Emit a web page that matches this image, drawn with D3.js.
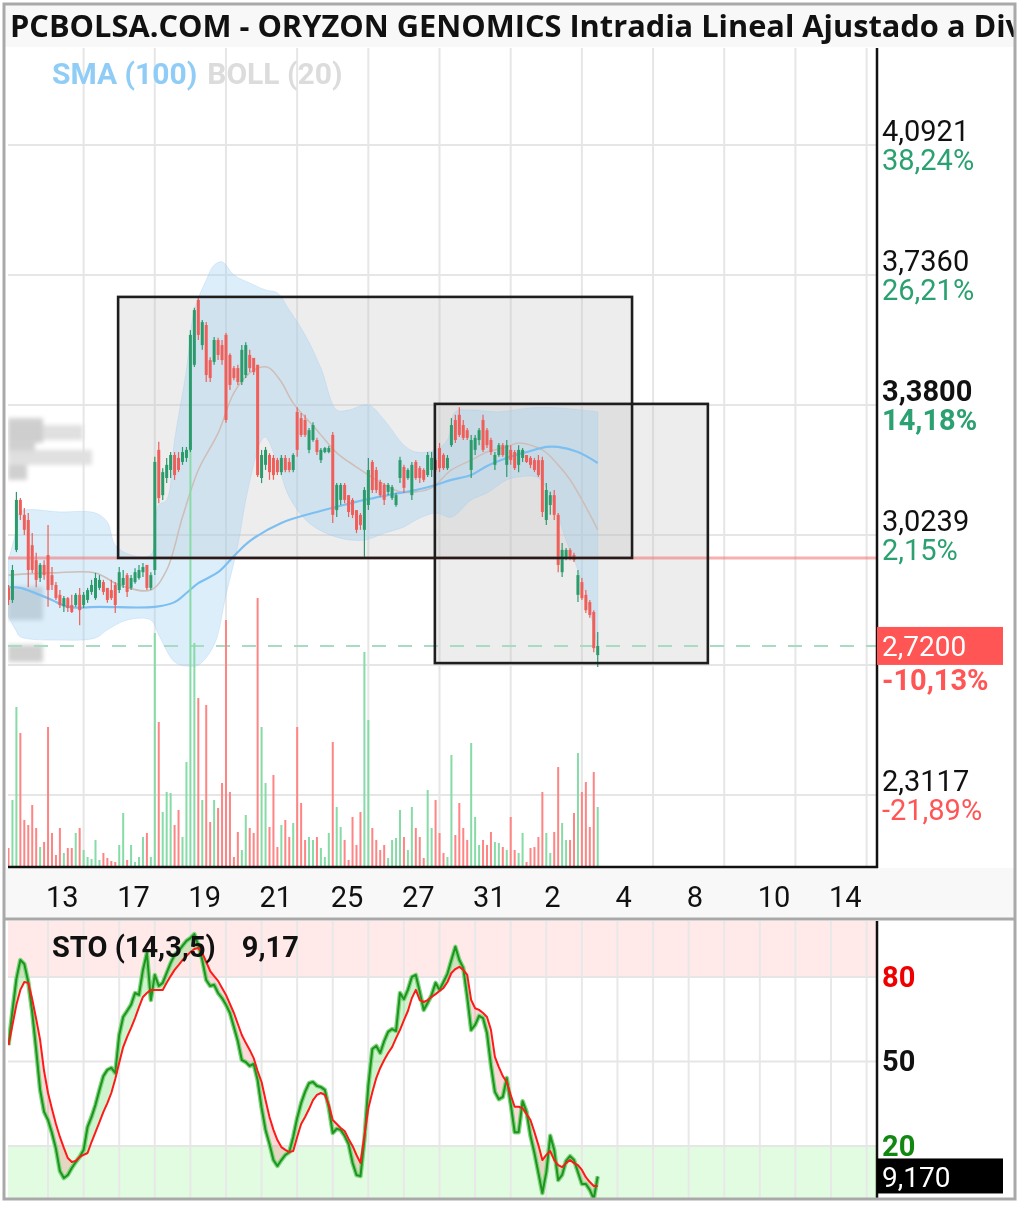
<!DOCTYPE html>
<html><head><meta charset="utf-8">
<script src="https://cdn.jsdelivr.net/npm/d3@7"></script>
<style>
html,body{margin:0;padding:0;background:#fff;}
svg{display:block;}
text{font-family:Roboto,"DejaVu Sans",sans-serif;}
</style></head><body>
<svg id="chart" width="1020" height="1205"></svg>
<script>
// ---------------- DATA ----------------
const titleText = "PCBOLSA.COM - ORYZON GENOMICS Intradia Lineal Ajustado a Dividendos";
const dayLabels = ["13","17","19","21","25","27","31","2","4","8","10","14"];
const dayLabelIdx = [0,2,4,6,8,10,12,14,16,18,20,22];
const firstCandleDay = -1.11;   // day position of first candle (Mar 12 afternoon)
const candlesPerDay = 9;

const open = [2.879,2.846,2.983,3.120,3.079,3.065,2.996,2.955,2.906,2.942,
2.969,2.914,2.887,2.860,2.829,2.851,2.832,2.832,2.860,2.832,
2.846,2.868,2.851,2.879,2.895,2.879,2.873,2.887,2.873,2.887,
2.914,2.879,2.895,2.906,2.922,2.942,2.879,2.928,3.257,3.133,
3.180,3.202,3.243,3.235,3.224,3.235,3.257,3.490,3.668,3.544,
3.599,3.503,3.498,3.558,3.544,3.572,3.517,3.481,3.481,3.443,
3.462,3.517,3.509,3.490,3.180,3.216,3.243,3.235,3.229,3.196,
3.235,3.224,3.202,3.361,3.344,3.339,3.257,3.284,3.284,3.229,
3.251,3.251,3.298,3.092,3.120,3.161,3.133,3.120,3.092,3.079,
3.038,3.106,3.224,3.202,3.169,3.161,3.142,3.125,3.106,3.180,
3.210,3.180,3.133,3.224,3.207,3.202,3.188,3.202,3.229,3.262,
3.243,3.207,3.270,3.339,3.353,3.325,3.311,3.202,3.257,3.284,
3.339,3.311,3.284,3.216,3.243,3.270,3.216,3.257,3.251,3.216,
3.235,3.243,3.235,3.229,3.229,3.229,3.065,3.106,3.133,3.079,
2.922,2.961,2.983,2.969,2.860,2.895,2.860,2.840,2.813,2.695];
const high = [2.887,2.942,3.142,3.125,3.098,3.084,3.029,2.975,2.947,2.955,
3.051,2.936,2.895,2.873,2.857,2.854,2.860,2.865,2.879,2.868,
2.879,2.901,2.920,2.914,2.901,2.879,2.901,2.895,2.936,2.928,
2.920,2.914,2.933,2.942,2.947,2.942,2.922,3.238,3.279,3.207,
3.235,3.251,3.251,3.251,3.265,3.265,3.585,3.646,3.673,3.613,
3.607,3.511,3.566,3.564,3.558,3.577,3.522,3.487,3.490,3.544,
3.552,3.531,3.509,3.490,3.257,3.265,3.248,3.243,3.235,3.243,
3.243,3.235,3.248,3.374,3.358,3.353,3.317,3.333,3.290,3.262,
3.265,3.268,3.306,3.166,3.166,3.166,3.133,3.125,3.092,3.084,
3.155,3.235,3.229,3.210,3.175,3.166,3.166,3.161,3.139,3.238,
3.216,3.207,3.224,3.229,3.213,3.207,3.251,3.251,3.235,3.276,
3.248,3.243,3.344,3.353,3.374,3.339,3.317,3.298,3.298,3.317,
3.353,3.317,3.290,3.251,3.276,3.276,3.284,3.270,3.257,3.270,
3.262,3.243,3.240,3.235,3.243,3.238,3.166,3.142,3.147,3.084,
3.002,2.988,2.988,2.975,2.928,2.906,2.873,2.846,2.818,2.758];
const low = [2.832,2.838,2.977,3.065,3.024,2.881,2.920,2.881,2.895,2.901,
2.827,2.873,2.846,2.824,2.813,2.813,2.810,2.827,2.777,2.824,
2.838,2.860,2.846,2.873,2.860,2.838,2.846,2.810,2.865,2.879,
2.854,2.873,2.890,2.901,2.909,2.873,2.873,2.914,3.111,3.120,
3.166,3.180,3.175,3.196,3.216,3.224,3.251,3.484,3.558,3.531,
3.443,3.443,3.490,3.503,3.490,3.331,3.421,3.448,3.435,3.435,
3.454,3.470,3.462,3.183,3.166,3.202,3.175,3.175,3.188,3.188,
3.196,3.196,3.196,3.238,3.292,3.292,3.248,3.279,3.243,3.221,
3.248,3.248,3.057,3.073,3.106,3.111,3.073,3.070,3.029,3.038,
2.964,3.092,3.139,3.139,3.128,3.106,3.133,3.120,3.101,3.166,
3.139,3.175,3.120,3.175,3.166,3.169,3.183,3.183,3.196,3.196,
3.202,3.202,3.265,3.276,3.292,3.284,3.284,3.180,3.243,3.270,
3.251,3.262,3.243,3.202,3.238,3.238,3.183,3.216,3.202,3.196,
3.224,3.221,3.207,3.196,3.183,3.073,3.051,3.079,3.065,2.922,
2.909,2.955,2.955,2.950,2.840,2.846,2.810,2.797,2.703,2.662];
const close = [2.846,2.928,3.120,3.079,3.038,2.928,2.928,2.901,2.942,2.914,
2.873,2.887,2.851,2.832,2.851,2.824,2.813,2.860,2.818,2.860,
2.873,2.887,2.906,2.901,2.868,2.846,2.851,2.832,2.922,2.906,
2.868,2.906,2.922,2.928,2.936,2.879,2.914,3.224,3.125,3.196,
3.216,3.243,3.188,3.202,3.251,3.257,3.572,3.640,3.572,3.607,
3.462,3.454,3.558,3.517,3.503,3.339,3.435,3.454,3.443,3.531,
3.544,3.481,3.470,3.188,3.243,3.257,3.196,3.188,3.196,3.235,
3.202,3.202,3.243,3.257,3.298,3.298,3.311,3.325,3.251,3.257,
3.262,3.262,3.079,3.161,3.161,3.120,3.087,3.079,3.038,3.051,
3.147,3.202,3.147,3.147,3.133,3.120,3.161,3.155,3.133,3.229,
3.153,3.202,3.216,3.180,3.180,3.175,3.243,3.235,3.202,3.207,
3.207,3.235,3.325,3.284,3.298,3.290,3.290,3.284,3.290,3.311,
3.257,3.270,3.251,3.243,3.270,3.243,3.270,3.229,3.207,3.257,
3.257,3.224,3.216,3.202,3.188,3.087,3.147,3.133,3.079,2.942,
2.983,2.983,2.961,2.955,2.914,2.851,2.818,2.805,2.714,2.720];
// volume, thousands of shares
const volume = [19,67,160,134,47,42,62,39,20,25,
140,34,12,39,14,19,19,34,39,17,
10,8,27,7,14,9,6,5,22,54,
7,22,5,10,30,34,10,234,145,55,
75,74,42,57,30,105,427,224,169,67,
162,45,67,59,84,247,75,10,35,17,
52,39,34,269,140,84,40,92,20,42,
47,30,44,140,64,27,30,27,30,19,
10,34,125,60,40,27,7,50,22,55,
215,147,39,27,17,22,9,27,29,57,
30,17,60,39,30,9,77,39,67,34,
14,10,112,32,64,39,27,124,50,22,
27,22,35,25,24,20,17,50,17,14,
34,5,19,20,30,75,34,14,35,100,
44,27,27,54,114,75,85,40,95,60];

// Bollinger (20) and SMA(100) read at sample candle indices
const bollUpperIdx = [0,2,3,13,22,25,27,31,36,37,38,40,42,45,47,50,52,54,57,61,65,68,71,75,79,83,86,91,95,100,103,108,111,113,117,124,132,139,149];
const bollUpper = [2.955,3.038,3.087,3.087,3.084,3.059,2.996,2.969,2.969,3.051,3.106,3.120,3.284,3.476,3.640,3.722,3.763,3.772,3.736,3.714,3.695,3.687,3.640,3.572,3.481,3.366,3.366,3.380,3.339,3.270,3.251,3.257,3.284,3.361,3.366,3.361,3.372,3.372,3.361];
const bollLowerIdx = [0,2,3,13,22,25,30,36,38,42,45,48,52,55,58,60,63,64,65,68,71,76,83,90,95,100,103,108,112,117,121,126,129,134,138,141,144,147,149];
const bollLower = [2.800,2.760,2.745,2.736,2.742,2.764,2.791,2.791,2.750,2.676,2.665,2.668,2.723,2.860,2.996,3.120,3.257,3.284,3.292,3.221,3.128,3.057,3.018,3.010,3.029,3.046,3.065,3.084,3.073,3.120,3.139,3.175,3.183,3.180,3.106,3.010,2.928,2.818,2.709];
const bollMidIdx = [0,11,22,28,36,40,44,48,53,57,61,64,66,69,72,78,83,88,93,99,103,107,112,117,121,126,129,135,139,142,146,149];
const bollMid = [2.914,2.920,2.920,2.887,2.873,2.928,3.073,3.202,3.303,3.413,3.468,3.484,3.481,3.443,3.385,3.311,3.249,3.210,3.175,3.142,3.142,3.153,3.202,3.229,3.251,3.265,3.276,3.257,3.216,3.175,3.101,3.038];
const smaIdx = [0,3,6,11,15,23,37,42,45,48,53,57,61,69,78,83,90,96,103,108,112,117,121,126,131,136,139,144,149];
const sma100 = [2.881,2.879,2.868,2.846,2.827,2.827,2.827,2.840,2.865,2.892,2.922,2.966,3.007,3.057,3.087,3.101,3.120,3.133,3.147,3.161,3.175,3.188,3.213,3.235,3.251,3.265,3.265,3.251,3.221];

// Stochastic (14,3,5)
const stoK = [55.8,67.9,79.3,86.0,84.6,78.2,67.5,54.1,39.9,32.1,
29.2,24.6,19.0,11.1,8.6,9.7,12.2,14.3,16.1,18.6,
26.8,30.3,34.6,39.9,44.8,47.0,47.7,45.9,59.4,65.8,
67.9,70.1,74.3,73.6,82.5,88.5,71.8,80.7,76.8,77.9,
81.4,84.9,87.8,89.2,91.0,92.8,93.8,95.2,91.3,86.0,
78.9,76.8,77.2,74.3,72.5,70.1,67.2,62.2,57.2,50.5,
49.8,48.4,49.1,43.4,33.6,25.7,20.7,15.0,12.9,15.0,
16.8,17.8,23.2,29.9,35.2,39.2,42.3,42.7,41.3,40.9,
39.9,33.6,24.6,26.1,25.7,23.6,20.7,14.1,9.7,9.3,
22.1,41.6,54.4,55.5,53.0,57.2,60.5,61.5,60.8,74.3,
72.1,75.4,80.0,80.7,74.7,68.3,70.8,73.6,77.9,75.4,
78.2,81.1,86.0,90.7,86.0,83.2,72.9,61.2,63.0,66.2,
65.4,60.1,48.7,39.2,36.6,37.4,44.1,34.9,24.9,24.9,
35.9,32.1,23.6,17.5,10.4,3.3,10.7,23.6,18.6,7.9,
9.7,14.7,16.4,15.0,10.7,6.5,6.5,4.4,1.2,9.17];
const stoD = [55.8,62.9,70.1,75.4,78.2,77.9,72.1,65.1,57.6,46.6,
38.8,33.1,27.8,23.2,19.3,15.7,14.3,14.7,16.1,16.8,
17.5,21.4,24.9,28.5,32.1,35.2,38.8,43.8,49.5,55.1,
58.7,61.9,65.4,69.3,72.9,74.3,75.4,75.4,75.4,75.4,
77.9,80.3,82.5,84.2,86.0,87.4,88.8,89.9,90.3,88.5,
85.3,82.1,80.3,78.6,76.1,73.6,70.4,67.2,63.3,59.4,
56.6,54.1,51.2,46.6,42.7,36.3,30.3,25.7,22.1,19.6,
18.6,17.8,18.2,23.2,27.8,30.3,33.1,36.3,38.1,38.8,
38.1,34.6,29.2,27.8,26.4,25.3,22.5,20.0,16.8,14.0,
23.6,33.4,39.1,44.1,47.7,50.5,53.0,55.1,58.3,61.2,
64.7,67.9,72.5,75.4,71.8,71.1,71.8,72.9,73.9,75.0,
76.1,78.2,81.4,82.8,83.6,82.5,80.7,71.8,68.9,68.3,
67.2,65.8,61.2,51.6,48.0,44.8,42.7,38.1,33.9,33.9,
33.4,31.3,29.2,24.9,20.3,15.0,16.8,18.2,15.0,13.2,
12.5,13.9,15.0,13.9,13.2,11.5,8.9,7.2,5.8,5.8];
const stoLast = 9.17;
const stoLevels = [80,50,20];

// price axis
const priceTicks = [4.0921,3.7360,3.3800,3.0239,2.6678,2.3117];
const tickPct = ["38,24%","26,21%","14,18%","2,15%","","-21,89%"];
const tickBold = [false,false,true,false,false,false];
const lastPrice = 2.72, lastPct = "-10,13%";
const refPrice = 2.961;

// drawn rectangles (day position, price)
const boxes = [
  {d0:1.97, d1:16.41, p0:3.676, p1:2.961},
  {d0:10.87, d1:18.54, p0:3.383, p1:2.673}
];
// volume-at-price blocks (price range, volume)
const vapHi = [3.325,3.344,3.276,3.257,3.216,2.882,2.723];
const vapLo = [3.284,3.276,3.243,3.216,3.175,2.791,2.676];
const vapVol = [75,35,27,84,19,35,35];

// ---------------- CHART ----------------
const svg = d3.select("#chart");
const L = 8, R = 877, T = 48, B = 867, ST = 921, SB = 1198;
const xDay = d3.scaleLinear().domain([0,22]).range([48,831]);
const cx = i => xDay(firstCandleDay + i / candlesPerDay);
const y = d3.scaleLinear().domain([2.3117,4.0921]).range([795,145]);
const yVol = d3.scaleLinear().domain([0,600]).range([B,B-600]);
const yS = d3.scaleLinear().domain([0,100]).range([1202.3,920.6]);
const vapX = d3.scaleLinear().domain([0,100]).range([L,L+100]);

const defs = svg.append("defs");
defs.append("clipPath").attr("id","cMain").append("rect").attr("x",L).attr("y",T).attr("width",R-L).attr("height",B-T);
defs.append("clipPath").attr("id","cSto").append("rect").attr("x",L).attr("y",ST).attr("width",R-L).attr("height",SB-ST);
defs.append("clipPath").attr("id","cTitle").append("rect").attr("x",5).attr("y",3).attr("width",1009).attr("height",44);
defs.append("filter").attr("id","blur").attr("x","-20%").attr("y","-50%").attr("width","140%").attr("height","200%")
  .append("feGaussianBlur").attr("stdDeviation",2.2);

svg.append("rect").attr("width",1020).attr("height",1205).attr("fill","#fff");
svg.append("rect").attr("x",4).attr("y",4).attr("width",1011).attr("height",43).attr("fill","#f8f8f8");
svg.append("rect").attr("x",4).attr("y",B+1).attr("width",1011).attr("height",ST-B-2).attr("fill","#f8f8f8");

const gMain = svg.append("g").attr("clip-path","url(#cMain)");
gMain.selectAll(".hg").data(priceTicks).join("line")
  .attr("x1",L).attr("x2",R).attr("y1",d=>y(d)).attr("y2",d=>y(d))
  .attr("stroke","#e6e6e6").attr("stroke-width",2);
const mainGridDays = d3.range(1,24,2);
gMain.selectAll(".vg").data(mainGridDays).join("line")
  .attr("x1",d=>xDay(d)).attr("x2",d=>xDay(d)).attr("y1",T).attr("y2",B)
  .attr("stroke","#e6e6e6").attr("stroke-width",2);

gMain.selectAll(".boxf").data(boxes).join("rect")
  .attr("x",d=>xDay(d.d0)).attr("y",d=>y(d.p0))
  .attr("width",d=>xDay(d.d1)-xDay(d.d0)).attr("height",d=>y(d.p1)-y(d.p0))
  .attr("fill","rgba(190,190,190,0.28)");

// volume at price blocks
gMain.append("g").attr("filter","url(#blur)").selectAll("rect").data(vapVol).join("rect")
  .attr("x",L).attr("y",(d,i)=>y(vapHi[i])).attr("width",d=>vapX(d)-L).attr("height",(d,i)=>y(vapLo[i])-y(vapHi[i]))
  .attr("fill",d=>d>60?"#dedede":"#cdcdcd").attr("opacity",0.95);

// bollinger band
const ptsU = bollUpperIdx.map((k,j)=>[cx(k),y(bollUpper[j])]);
const ptsL = bollLowerIdx.map((k,j)=>[cx(k),y(bollLower[j])]).reverse();
const lineCR = d3.line().curve(d3.curveCatmullRom.alpha(0.5));
const bandPath = lineCR(ptsU) + "L" + lineCR(ptsL).slice(1) + "Z";
gMain.append("path").attr("d",bandPath).attr("fill","rgba(160,208,245,0.36)").attr("stroke","rgba(150,200,240,0.3)").attr("stroke-width",1);
gMain.append("path").attr("d",lineCR(bollMidIdx.map((k,j)=>[cx(k),y(bollMid[j])])))
  .attr("fill","none").attr("stroke","#cdbfb8").attr("stroke-width",1.6);
gMain.append("path").attr("d",lineCR(smaIdx.map((k,j)=>[cx(k),y(sma100[j])])))
  .attr("fill","none").attr("stroke","#7cbff0").attr("stroke-width",2.2);

gMain.append("line").attr("x1",L).attr("x2",R).attr("y1",y(refPrice)).attr("y2",y(refPrice))
  .attr("stroke","rgba(240,110,110,0.55)").attr("stroke-width",3);
gMain.append("line").attr("x1",L).attr("x2",R).attr("y1",y(lastPrice)).attr("y2",y(lastPrice))
  .attr("stroke","#a8dcc2").attr("stroke-width",2).attr("stroke-dasharray","14,12");

const up = i => close[i] >= open[i];
gMain.selectAll(".vol").data(volume).join("rect")
  .attr("x",(d,i)=>cx(i)-1).attr("width",2)
  .attr("y",d=>yVol(d)).attr("height",d=>B-yVol(d))
  .attr("fill",(d,i)=>up(i)?"#86dba6":"#ff8585");

const gC = gMain.append("g");
open.forEach((o,i)=>{
  const c = close[i], hi = Math.max(high[i],o,c), lo = Math.min(low[i],o,c);
  const col = up(i) ? "#2b9b6b" : "#ef5e58";
  gC.append("line").attr("x1",cx(i)).attr("x2",cx(i)).attr("y1",y(hi)).attr("y2",y(lo))
    .attr("stroke",col).attr("stroke-width",1.2);
  const yt = y(Math.max(o,c)), yb = y(Math.min(o,c));
  gC.append("rect").attr("x",cx(i)-1.5).attr("width",3).attr("y",yt).attr("height",Math.max(1.2,yb-yt)).attr("fill",col);
});

gMain.selectAll(".boxs").data(boxes).join("rect")
  .attr("x",d=>xDay(d.d0)).attr("y",d=>y(d.p0))
  .attr("width",d=>xDay(d.d1)-xDay(d.d0)).attr("height",d=>y(d.p1)-y(d.p0))
  .attr("fill","none").attr("stroke","#1e1e1e").attr("stroke-width",2.6);

// legend
const leg = svg.append("text").attr("x",52).attr("y",84).style("font-size","30px").style("font-weight",700);
leg.append("tspan").attr("fill","#90cdf6").text("SMA (100)");
leg.append("tspan").attr("fill","#dcdcdc").attr("dx",10).text("BOLL (20)");

svg.append("line").attr("x1",R).attr("x2",R).attr("y1",T).attr("y2",B+1).attr("stroke","#111").attr("stroke-width",2.5);
svg.append("line").attr("x1",L).attr("x2",R+1).attr("y1",B).attr("y2",B).attr("stroke","#111").attr("stroke-width",2.5);

// right price labels
const fmt = v => d3.format(".4f")(v).replace(".",",");
priceTicks.forEach((p,i)=>{
  if(!tickPct[i]) return;
  svg.append("text").attr("x",882).attr("y",y(p)-4).style("font-size","29px")
    .style("font-weight",tickBold[i]?700:400).attr("fill","#111").text(fmt(p));
  svg.append("text").attr("x",882).attr("y",y(p)+25).style("font-size","29px")
    .style("font-weight",tickBold[i]?700:400)
    .attr("fill",tickPct[i].startsWith("-")?"#ff5555":"#2ba070").text(tickPct[i]);
});
svg.append("rect").attr("x",R).attr("y",y(lastPrice)-19).attr("width",126).attr("height",38).attr("fill","#ff5555");
svg.append("text").attr("x",882).attr("y",y(lastPrice)+10).style("font-size","28px").attr("fill","#fff").text(fmt(lastPrice));
svg.append("text").attr("x",882).attr("y",y(lastPrice)+44).style("font-size","29px").style("font-weight",700)
  .attr("fill","#ff5555").text(lastPct);

// x labels
svg.selectAll(".xl").data(dayLabels).join("text")
  .attr("x",(d,i)=>xDay(dayLabelIdx[i])-2).attr("y",907).style("font-size","29px").attr("fill","#111").text(d=>d);

svg.append("line").attr("x1",4).attr("x2",1015).attr("y1",ST-2).attr("y2",ST-2).attr("stroke","#a9a9a9").attr("stroke-width",3);

// ---------------- STO PANEL ----------------
const gS = svg.append("g").attr("clip-path","url(#cSto)");
gS.append("rect").attr("x",L).attr("y",ST).attr("width",R-L).attr("height",yS(80)-ST).attr("fill","#ffe9e9");
gS.append("rect").attr("x",L).attr("y",yS(20)).attr("width",R-L).attr("height",SB-yS(20)).attr("fill","#e2fce2");
gS.selectAll(".sv").data(d3.range(0,24)).join("line")
  .attr("x1",d=>xDay(d)).attr("x2",d=>xDay(d)).attr("y1",ST).attr("y2",SB)
  .attr("stroke","#e8e8e8").attr("stroke-width",2);
gS.selectAll(".sh").data(stoLevels).join("line")
  .attr("x1",L).attr("x2",R).attr("y1",d=>yS(d)).attr("y2",d=>yS(d))
  .attr("stroke","#e6e6e6").attr("stroke-width",2);

const idx = d3.range(stoK.length);
defs.append("clipPath").attr("id","cAbove").append("path")
  .attr("d",d3.area().x(i=>cx(i)).y0(ST-5).y1(i=>yS(stoD[i]))(idx));
defs.append("clipPath").attr("id","cBelow").append("path")
  .attr("d",d3.area().x(i=>cx(i)).y0(i=>yS(stoD[i])).y1(SB+5)(idx));
const between = d3.area().x(i=>cx(i)).y0(i=>yS(stoD[i])).y1(i=>yS(stoK[i]));
gS.append("path").attr("d",between(idx)).attr("fill","rgba(60,210,60,0.25)").attr("clip-path","url(#cAbove)");
gS.append("path").attr("d",between(idx)).attr("fill","rgba(240,80,80,0.22)").attr("clip-path","url(#cBelow)");
const lK = d3.line().x(i=>cx(i)).y(i=>yS(stoK[i]));
const lD = d3.line().x(i=>cx(i)).y(i=>yS(stoD[i]));
gS.append("path").attr("d",lK(idx)).attr("fill","none").attr("stroke","#7fd67f").attr("stroke-width",4.5).attr("stroke-linejoin","round");
gS.append("path").attr("d",lK(idx)).attr("fill","none").attr("stroke","#1e941e").attr("stroke-width",2).attr("stroke-linejoin","round");
gS.append("path").attr("d",lD(idx)).attr("fill","none").attr("stroke","#ff1a1a").attr("stroke-width",2).attr("stroke-linejoin","round");

svg.append("line").attr("x1",R).attr("x2",R).attr("y1",ST).attr("y2",SB).attr("stroke","#111").attr("stroke-width",2.5);
const stoTitle = svg.append("text").attr("x",52).attr("y",957).style("font-size","29px").style("font-weight",700).attr("fill","#111");
stoTitle.append("tspan").text("STO (14,3,5)");
stoTitle.append("tspan").attr("dx",26).text(String(stoLast).replace(".",","));
const stoCol = {80:"#ee0000",50:"#111",20:"#118811"};
stoLevels.forEach(v=>{
  svg.append("text").attr("x",882).attr("y",yS(v)+10).style("font-size","29px").style("font-weight",700)
    .attr("fill",stoCol[v]).text(v);
});
svg.append("rect").attr("x",R).attr("y",yS(stoLast)-18).attr("width",126).attr("height",35).attr("fill","#000");
svg.append("text").attr("x",882).attr("y",yS(stoLast)+11).style("font-size","28px").attr("fill","#fff")
  .text(d3.format(".3f")(stoLast).replace(".",","));

// ---------------- TITLE ----------------
const tg = svg.append("g").attr("clip-path","url(#cTitle)");
const probe = tg.append("text").style("font-family","'Open Sans'").style("font-weight",700).style("font-size","28px")
  .text("PCBOLSA.COM - ORYZON GENOMICS Intradia Lineal Ajustado a Di");
const wProbe = probe.node().getComputedTextLength();
probe.remove();
const fs = 28 * 996 / wProbe;
tg.append("text").attr("x",10).attr("y",37).style("font-family","'Open Sans'").style("font-weight",700)
  .style("font-size",fs+"px").attr("fill","#111").text(titleText);

svg.append("rect").attr("x",4).attr("y",4).attr("width",1011).attr("height",1195)
  .attr("fill","none").attr("stroke","#a9a9a9").attr("stroke-width",3);
</script>
</body></html>
